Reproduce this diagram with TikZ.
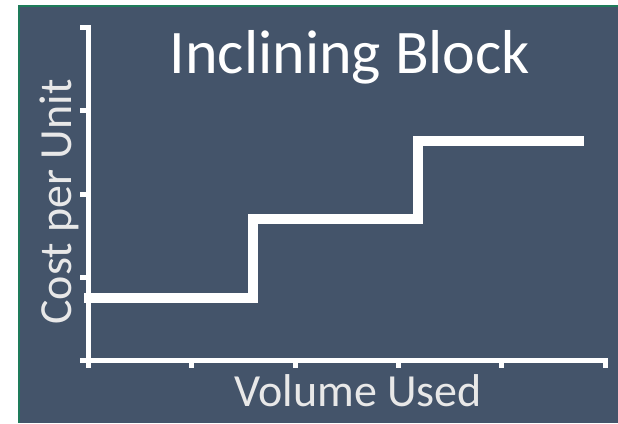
\documentclass[tikz,border=0pt]{standalone}
\usepackage{fontspec}
\setmainfont{Carlito}
\definecolor{bgslate}{HTML}{44546A}
\definecolor{frameg}{HTML}{1E7B5A}
\definecolor{lbl}{HTML}{E8E8E8}
\tikzset{
  axisline/.style={draw=white, line width=5pt},
  tickline/.style={draw=white, line width=5pt},
  stepline/.style={draw=white, line width=10pt, miter limit=10},
}
\begin{document}
\begin{tikzpicture}[x=1pt,y=-1pt]
\useasboundingbox (0,0) rectangle (618,423);
\fill[white] (0,0) rectangle (618,423);
\fill[frameg] (18,5) rectangle (618,423);
\fill[bgslate] (20,7) rectangle (618,423);
% axes
\coordinate (ytop) at (88.5,25);
\coordinate (ybot) at (88.5,368);
\coordinate (xl) at (80,360.5);
\coordinate (xr) at (608,360.5);
\draw[axisline] (ytop) -- (ybot);
\draw[axisline] (xl) -- (xr);
% y ticks
\foreach \yy in {27.5,110.5,194,277.5}
  \draw[tickline] (80,\yy) -- (88,\yy);
% x ticks
\foreach \xx in {191.5,295.5,398,501.5,605.5}
  \draw[tickline] (\xx,360) -- (\xx,368);
% step line
\coordinate (s0) at (84,298);
\coordinate (s1) at (253,298);
\coordinate (s2) at (253,219);
\coordinate (s3) at (418,219);
\coordinate (s4) at (418,141);
\coordinate (s5) at (584,141);
\draw[stepline] (s0) -- (s1) -- (s2) -- (s3) -- (s4) -- (s5);
% texts
\node[anchor=base, text=white, inner sep=0pt, font=\fontsize{62}{70}\selectfont] (title) at (350,73) {Inclining Block};
\node[anchor=base, text=lbl, inner sep=0pt, font=\fontsize{46}{52}\selectfont] (xlab) at (358,406) {Volume Used};
\node[anchor=base, rotate=90, text=lbl, inner sep=0pt, font=\fontsize{46}{52}\selectfont] (ylab) at (71,202) {Cost per Unit};
\end{tikzpicture}
\end{document}
